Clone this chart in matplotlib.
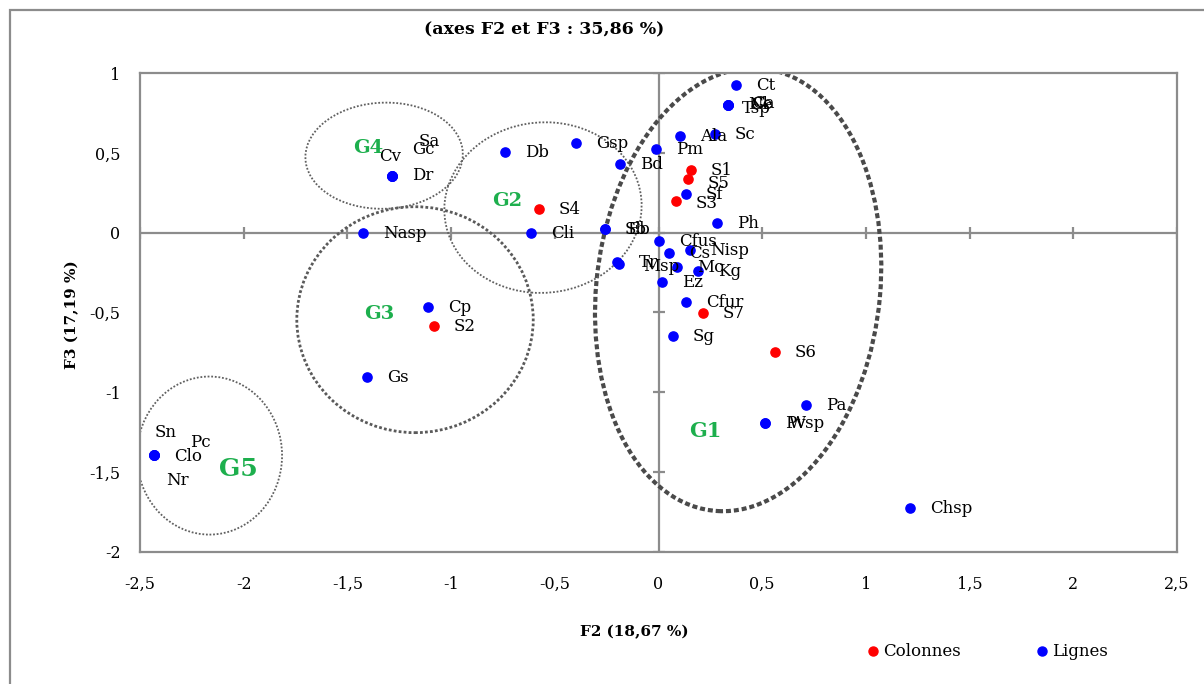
import matplotlib
matplotlib.use('Agg')
import matplotlib.pyplot as plt
from matplotlib.patches import Ellipse, Rectangle
from matplotlib.lines import Line2D

plt.rcParams['font.family'] = ['DejaVu Serif']

# ── Data: rows (Lignes) ──────────────────────────────────────────────────────
row_names = ['Ct', 'Tsp', 'Cl', 'Ca', 'Ne', 'Ala', 'Sc', 'Pm', 'Gsp', 'Db', 'Bd',
             'Sf', 'Ph', 'Sb', 'Eb', 'Cli', 'Nasp', 'Cv', 'Gc', 'Sa', 'Dr',
             'Cfus', 'Cs', 'Nisp', 'Tr', 'Msp', 'Mc', 'Kg', 'Ez', 'Cfur', 'Sg',
             'Cp', 'Gs', 'Pa', 'Pv', 'Wsp', 'Chsp', 'Sn', 'Pc', 'Clo', 'Nr']
row_f2 = [0.374, 0.335, 0.335, 0.335, 0.335, 0.104, 0.272, -0.012, -0.398, -0.740, -0.186,
          0.133, 0.282, -0.258, -0.258, -0.615, -1.425, -1.285, -1.285, -1.285, -1.285,
          0.002, 0.051, 0.152, -0.200, -0.190, 0.089, 0.190, 0.017, 0.133, 0.070,
          -1.111, -1.406, 0.711, 0.513, 0.513, 1.213, -2.433, -2.433, -2.433, -2.433]
row_f3 = [0.927, 0.801, 0.801, 0.801, 0.801, 0.607, 0.620, 0.526, 0.564, 0.507, 0.432,
          0.244, 0.063, 0.025, 0.025, 0.0, 0.0, 0.357, 0.357, 0.357, 0.357,
          -0.050, -0.125, -0.106, -0.182, -0.194, -0.213, -0.238, -0.307, -0.432, -0.645,
          -0.463, -0.902, -1.077, -1.190, -1.190, -1.722, -1.390, -1.390, -1.390, -1.390]

# ── Data: columns (Colonnes) ─────────────────────────────────────────────────
col_names = ['S1', 'S5', 'S3', 'S4', 'S7', 'S2', 'S6']
col_f2 = [0.157, 0.142, 0.084, -0.576, 0.215, -1.083, 0.562]
col_f3 = [0.394, 0.338, 0.200, 0.150, -0.501, -0.582, -0.745]

# ── Groups drawn by hand on the map ──────────────────────────────────────────
group_names = ['G1', 'G2', 'G3', 'G4', 'G5']
group_center = [(0.384, -0.357), (-0.557, 0.157), (-1.174, -0.545), (-1.323, 0.482), (-2.165, -1.396)]
group_size = [(1.37, 2.78), (0.95, 1.07), (1.14, 1.415), (0.76, 0.664), (0.70, 0.99)]
group_angle = [-4, -6, 0, 6, 0]
group_text_pos = [(0.15, -1.24), (-0.80, 0.20), (-1.42, -0.51), (-1.47, 0.53), (-2.12, -1.48)]

ticks_x = [-2.5, -2, -1.5, -1, -0.5, 0, 0.5, 1, 1.5, 2, 2.5]
ticks_y = [-2, -1.5, -1, -0.5, 0, 0.5, 1]

# label offsets in pixels (dx right, dy down) for labels moved by hand
label_offset = {
    'Tsp': (14, 4), 'Cl': (22, 0), 'Ca': (24, -1), 'Ne': (20, 0),
    'Cv': (-13, -19), 'Gc': (20, -26), 'Sa': (27, -34), 'Dr': (20, 0),
    'Sn': (1, -22), 'Pc': (36, -12), 'Clo': (20, 2), 'Nr': (12, 26),
    'Tr': (22, 1), 'Msp': (24, 3), 'Sb': (20, 1), 'Eb': (22, 1),
    'Pv': (20, 1), 'Wsp': (24, 1), 'S5': (20, 5), 'S3': (20, 3),
}
DEFAULT_OFFSET = (20, 1)


def fmt(v):
    s = f'{v:g}'
    return s.replace('.', ',')


fig = plt.figure(figsize=(12.04, 6.84), dpi=100)
ax = fig.add_axes([140 / 1204, 1 - 552 / 684, 1037 / 1204, 479 / 684])

ax.set_xlim(-2.5, 2.5)
ax.set_ylim(-2, 1)
ax.set_xticks(ticks_x)
ax.set_yticks(ticks_y)
ax.set_xticklabels([fmt(t) for t in ticks_x], fontsize=11.5)
ax.set_yticklabels([fmt(t) for t in ticks_y], fontsize=11.5)
ax.tick_params(length=0)
ax.tick_params(axis='x', pad=17)
ax.tick_params(axis='y', pad=14)
for s in ax.spines.values():
    s.set_edgecolor('#8c8c8c')
    s.set_linewidth(1.6)

# axes through origin with cross ticks
grey = '#8c8c8c'
ax.axhline(0, color=grey, lw=1.6, zorder=1)
ax.axvline(0, color=grey, lw=1.6, zorder=1)
ax.plot(ticks_x, [0] * len(ticks_x), ls='none', marker='|', ms=9, mew=1.6, color=grey, zorder=1)
ax.plot([0] * len(ticks_y), ticks_y, ls='none', marker='_', ms=9, mew=1.6, color=grey, zorder=1)

# group ellipses
for i, name in enumerate(group_names):
    if name == 'G1':
        ls, lw, col = (0, (1.2, 0.7)), 3.0, '#4a4a4a'
    elif name == 'G3':
        ls, lw, col = (0, (1, 0.8)), 2.0, '#5a5a5a'
    else:
        ls, lw, col = (0, (1, 1)), 1.3, '#606060'
    e = Ellipse(group_center[i], group_size[i][0], group_size[i][1], angle=group_angle[i],
                fill=False, edgecolor=col, linestyle=ls, linewidth=lw, zorder=2)
    ax.add_patch(e)
    size = {'G1': 15, 'G5': 18}.get(name, 14)
    ax.text(group_text_pos[i][0], group_text_pos[i][1], name, color='#1daf4d',
            fontsize=size, fontweight='bold', ha='left', va='center', zorder=5)

# points
ax.scatter(row_f2, row_f3, s=44, color='#0000ff', zorder=3, label='Lignes')
ax.scatter(col_f2, col_f3, s=44, color='#ff0000', zorder=3, label='Colonnes')

for names, xs, ys in [(row_names, row_f2, row_f3), (col_names, col_f2, col_f3)]:
    for n, x, y in zip(names, xs, ys):
        dx, dy = label_offset.get(n, DEFAULT_OFFSET)
        ax.annotate(n, (x, y), xytext=(dx * 0.72, -dy * 0.72), textcoords='offset points',
                    fontsize=12, ha='left', va='center', zorder=4)

# texts
fig.text(544 / 1204, 1 - 30 / 684, '(axes F2 et F3 : 35,86 %)', fontsize=12.5,
         fontweight='bold', ha='center', va='center')
fig.text(634 / 1204, 1 - 632 / 684, 'F2 (18,67 %)', fontsize=11, fontweight='bold',
         ha='center', va='center')
fig.text(72 / 1204, 1 - 315 / 684, 'F3 (17,19 %)', fontsize=11, fontweight='bold',
         ha='center', va='center', rotation=90)

handles = [Line2D([], [], ls='none', marker='o', ms=6.5, color='#ff0000'),
           Line2D([], [], ls='none', marker='o', ms=6.5, color='#0000ff')]
fig.legend(handles, ['Colonnes', 'Lignes'], loc='center left', ncol=2, frameon=False,
           bbox_to_anchor=(848 / 1204, 1 - 652 / 684), fontsize=12,
           handletextpad=0.0, columnspacing=4.3, handlelength=1.2)

# outer chart frame
fig.patches.append(Rectangle((10 / 1204, -0.05), 1.1, 1 - 10 / 684 + 0.05,
                             transform=fig.transFigure, fill=False,
                             edgecolor='#8c8c8c', linewidth=1.6))

fig.savefig('out.png', dpi=100)
